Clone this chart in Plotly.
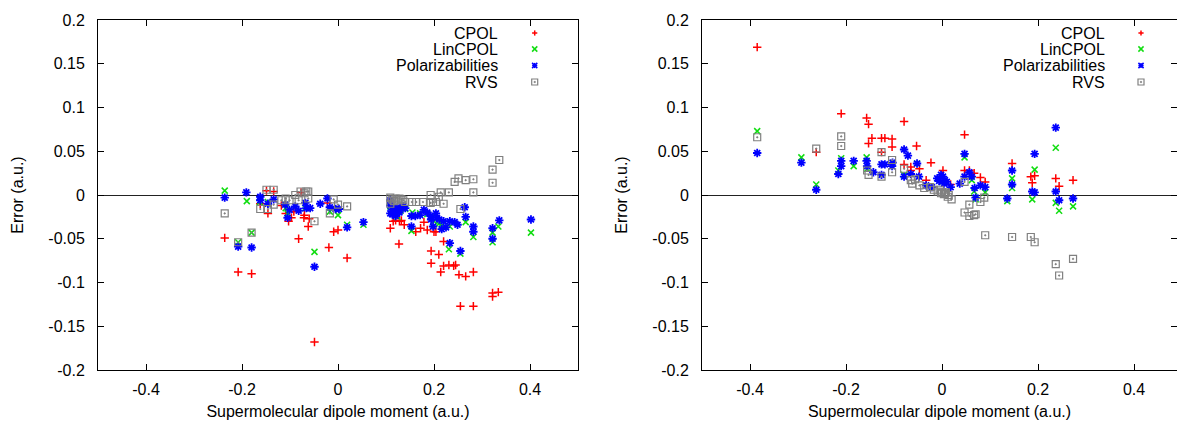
import plotly.graph_objects as go

# ---------------- data ----------------
series_names = ["CPOL", "LinCPOL", "Polarizabilities", "RVS"]
x_tick_vals = [-0.4, -0.2, 0, 0.2, 0.4]
x_tick_text = ["-0.4", "-0.2", "0", "0.2", "0.4"]
y_tick_vals = [0.2, 0.15, 0.1, 0.05, 0, -0.05, -0.1, -0.15, -0.2]
y_tick_text = ["0.2", "0.15", "0.1", "0.05", "0", "-0.05", "-0.1", "-0.15", "-0.2"]
x_title = "Supermolecular dipole moment (a.u.)"
y_title = "Error (a.u.)"

# left panel (dipole, error) pairs
left_cpol = [(-0.236, -0.049), (-0.208, -0.088), (-0.180, -0.090), (-0.162, -0.010), (-0.149, 0.005),
             (-0.146, -0.021), (-0.134, 0.004), (-0.118, -0.012), (-0.109, -0.021), (-0.103, -0.030),
             (-0.097, -0.026), (-0.092, -0.019), (-0.082, -0.050), (-0.071, -0.026), (-0.070, -0.023),
             (-0.062, -0.036), (-0.060, -0.027), (-0.077, 0.003), (-0.049, -0.168), (-0.019, -0.060),
             (-0.022, -0.009), (-0.009, -0.042), (0.000, -0.040), (0.019, -0.072), (0.109, -0.038),
             (0.115, -0.030), (0.120, -0.029), (0.127, -0.056), (0.132, -0.029), (0.138, -0.034),
             (0.128, -0.030), (0.162, -0.042), (0.172, -0.038), (0.179, -0.031), (0.186, -0.040),
             (0.194, -0.064), (0.194, -0.078), (0.200, -0.042), (0.204, -0.042), (0.210, -0.068),
             (0.214, -0.088), (0.220, -0.053), (0.220, -0.081), (0.231, -0.080), (0.241, -0.081),
             (0.245, -0.080), (0.252, -0.091), (0.255, -0.127), (0.266, -0.093), (0.282, -0.088),
             (0.282, -0.127), (0.322, -0.112), (0.322, -0.116), (0.334, -0.111)]
left_lincpol = [(-0.236, 0.005), (-0.190, -0.007), (-0.208, -0.054), (-0.180, -0.043), (-0.163, -0.008),
                (-0.146, -0.008), (-0.109, -0.015), (-0.105, -0.021), (-0.068, -0.015), (-0.049, -0.065),
                (-0.017, -0.019), (0.000, -0.023), (0.019, -0.034), (0.053, -0.034), (0.109, -0.013),
                (0.124, -0.025), (0.155, -0.020), (0.153, -0.041), (0.171, -0.021), (0.194, -0.025),
                (0.210, -0.033), (0.231, -0.062), (0.233, -0.036), (0.255, -0.067), (0.266, -0.031),
                (0.282, -0.048), (0.322, -0.054), (0.322, -0.043), (0.334, -0.036), (0.402, -0.043),
                (0.115, -0.020), (0.130, -0.018), (0.140, -0.016), (0.186, -0.022), (0.200, -0.030),
                (0.216, -0.035)]
left_polar = [(-0.236, -0.003), (-0.191, 0.003), (-0.208, -0.059), (-0.180, -0.060), (-0.162, -0.002),
              (-0.162, -0.006), (-0.146, -0.010), (-0.134, -0.005), (-0.110, -0.011), (-0.105, -0.026),
              (-0.101, -0.017), (-0.089, -0.013), (-0.082, -0.018), (-0.068, -0.009), (-0.066, -0.015),
              (-0.058, -0.015), (-0.037, -0.010), (-0.049, -0.082), (-0.022, -0.004), (-0.017, -0.014),
              (-0.005, -0.016), (0.002, -0.016), (0.019, -0.037), (0.053, -0.031),
              (0.109, -0.006), (0.109, -0.012), (0.109, -0.021), (0.113, -0.017), (0.117, -0.015),
              (0.120, -0.019), (0.124, -0.014), (0.128, -0.017), (0.132, -0.015), (0.136, -0.013),
              (0.140, -0.015), (0.113, -0.022), (0.120, -0.024), (0.128, -0.020),
              (0.153, -0.024), (0.153, -0.036), (0.161, -0.024), (0.171, -0.023), (0.179, -0.017),
              (0.186, -0.020), (0.193, -0.024), (0.194, -0.028), (0.198, -0.036), (0.204, -0.021),
              (0.206, -0.026), (0.211, -0.028), (0.216, -0.039), (0.220, -0.030), (0.225, -0.037),
              (0.233, -0.030), (0.233, -0.055), (0.243, -0.031), (0.249, -0.034), (0.255, -0.064),
              (0.264, -0.014), (0.266, -0.025), (0.282, -0.036), (0.282, -0.042), (0.322, -0.038),
              (0.322, -0.050), (0.336, -0.029), (0.402, -0.028)]
left_rvs = [(-0.236, -0.021), (-0.180, -0.043), (-0.208, -0.054), (-0.162, -0.016), (-0.149, 0.006),
            (-0.146, -0.016), (-0.134, 0.006), (-0.134, -0.011), (-0.118, -0.006), (-0.109, -0.004),
            (-0.101, -0.006), (-0.089, 0.000), (-0.082, -0.006), (-0.078, 0.004), (-0.070, 0.002),
            (-0.066, 0.004), (-0.062, 0.004), (-0.062, -0.004), (-0.049, -0.030), (-0.017, -0.021),
            (-0.009, -0.005), (0.000, -0.011), (0.019, -0.013),
            (0.109, -0.003), (0.113, -0.005), (0.117, -0.007), (0.120, -0.004), (0.124, -0.006),
            (0.128, -0.004), (0.132, -0.005), (0.136, -0.006), (0.140, -0.008), (0.109, -0.010),
            (0.154, -0.008), (0.163, -0.008), (0.177, -0.008), (0.193, 0.000), (0.193, -0.009),
            (0.198, -0.008), (0.204, -0.008), (0.210, -0.002), (0.214, 0.003), (0.220, -0.010),
            (0.231, 0.003), (0.243, 0.015), (0.251, 0.019), (0.255, -0.016), (0.266, 0.017),
            (0.282, 0.018), (0.282, 0.003), (0.322, 0.029), (0.322, 0.014), (0.336, 0.040)]

# right panel (dipole, error) pairs
right_cpol = [(-0.385, 0.169), (-0.262, 0.049), (-0.210, 0.093), (-0.157, 0.088), (-0.153, 0.081),
              (-0.153, 0.059), (-0.146, 0.065), (-0.126, 0.065), (-0.119, 0.065), (-0.104, 0.064),
              (-0.104, 0.055), (-0.126, 0.049), (-0.079, 0.084), (-0.079, 0.035), (-0.065, 0.032),
              (-0.065, 0.028), (-0.053, 0.056), (-0.047, 0.030), (-0.023, 0.037), (-0.033, 0.017),
              (0.002, 0.028), (0.018, 0.012), (0.047, 0.069), (0.047, 0.028), (0.057, 0.028),
              (0.067, 0.025), (0.080, 0.020), (0.090, 0.015), (0.146, 0.036), (0.185, 0.021),
              (0.188, 0.014), (0.193, 0.022), (0.237, 0.019), (0.244, 0.010), (0.273, 0.017)]
right_lincpol = [(-0.385, 0.073), (-0.293, 0.043), (-0.262, 0.012), (-0.216, 0.028), (-0.210, 0.042),
                 (-0.184, 0.033), (-0.157, 0.043), (-0.156, 0.030), (-0.079, 0.023), (-0.052, 0.036),
                 (0.047, 0.043), (0.067, 0.004), (0.070, -0.005), (0.090, 0.003), (0.136, -0.007),
                 (0.146, 0.019), (0.146, 0.008), (0.188, -0.005), (0.193, 0.029), (0.237, 0.054),
                 (0.237, -0.009), (0.244, -0.018), (0.273, -0.013), (-0.005, 0.018), (0.000, 0.015),
                 (0.062, 0.017)]
right_polar = [(-0.385, 0.048), (-0.293, 0.037), (-0.262, 0.006), (-0.216, 0.024), (-0.210, 0.039),
               (-0.210, 0.033), (-0.184, 0.039), (-0.157, 0.039), (-0.156, 0.033), (-0.143, 0.026),
               (-0.126, 0.035), (-0.126, 0.023), (-0.119, 0.035), (-0.104, 0.033), (-0.103, 0.037),
               (-0.079, 0.052), (-0.079, 0.021), (-0.071, 0.045), (-0.065, 0.024), (-0.052, 0.036),
               (-0.048, 0.021), (-0.033, 0.011), (-0.021, 0.009),
               (-0.010, 0.019), (-0.006, 0.016), (-0.002, 0.023), (0.002, 0.021), (0.006, 0.017),
               (0.004, 0.013), (0.010, 0.015), (0.018, 0.009),
               (0.037, 0.013), (0.047, 0.047), (0.047, 0.021), (0.057, 0.026), (0.062, 0.021),
               (0.068, 0.008), (0.070, -0.003), (0.080, 0.011), (0.090, 0.009), (0.136, -0.004),
               (0.146, 0.028), (0.146, 0.012), (0.188, 0.004), (0.193, 0.003), (0.193, 0.047),
               (0.237, 0.077), (0.237, 0.004), (0.244, -0.006), (0.273, -0.004)]
right_rvs = [(-0.385, 0.066), (-0.262, 0.053), (-0.210, 0.067), (-0.210, 0.056), (-0.156, 0.028),
             (-0.153, 0.023), (-0.126, 0.049), (-0.126, 0.021), (-0.104, 0.040), (-0.104, 0.026),
             (-0.079, 0.030), (-0.065, 0.017), (-0.062, 0.013), (-0.056, 0.018), (-0.047, 0.011),
             (-0.037, 0.008), (-0.025, 0.009), (-0.017, 0.006), (-0.009, 0.004), (-0.002, 0.002),
             (0.006, 0.002), (0.014, 0.000), (0.020, -0.005), (-0.005, 0.006), (0.000, 0.003),
             (0.004, 0.001), (0.008, 0.003), (0.012, -0.002),
             (0.047, -0.020), (0.047, 0.015), (0.057, -0.011), (0.057, -0.024), (0.067, -0.023),
             (0.070, -0.022), (0.080, -0.008), (0.088, -0.003), (0.090, -0.046), (0.146, -0.048),
             (0.185, -0.048), (0.193, -0.054), (0.237, -0.079), (0.244, -0.092), (0.273, -0.073)]

left_series = [left_cpol, left_lincpol, left_polar, left_rvs]
right_series = [right_cpol, right_lincpol, right_polar, right_rvs]

# ---------------- styles ----------------
FONT = "Liberation Sans, Arial, Helvetica, sans-serif"
colors = ["#ff0000", "#11dd11", "#0000ff", "#808080"]
markers = [
    dict(symbol="cross-thin", size=6, color=colors[0], line=dict(width=1.5, color=colors[0])),
    dict(symbol="x-thin", size=6, color=colors[1], line=dict(width=1.5, color=colors[1])),
    dict(symbol="asterisk", size=7, color=colors[2], line=dict(width=1.8, color=colors[2])),
    dict(symbol="square-open-dot", size=7, color=colors[3], line=dict(width=1.2, color=colors[3])),
]

W, H = 1177, 425
M_T, M_B = 20, 55
PLOT_H = H - M_T - M_B

fig = go.Figure()
for panel, (series, xa, ya) in enumerate([(left_series, "x", "y"), (right_series, "x2", "y2")]):
    for name, pts, mk in zip(series_names, series, markers):
        fig.add_trace(go.Scatter(
            x=[p[0] for p in pts], y=[p[1] for p in pts],
            mode="markers", name=name, marker=mk, xaxis=xa, yaxis=ya,
            showlegend=False, cliponaxis=True))

axis_common = dict(showline=True, linecolor="black", linewidth=1, mirror="ticks",
                   ticks="inside", ticklen=6, tickwidth=1, tickcolor="black",
                   showgrid=False, tickfont=dict(family=FONT, size=16, color="black"))

xcommon = dict(axis_common, tickvals=x_tick_vals, ticktext=x_tick_text, zeroline=False,
               ticklabelstandoff=5,
               title=dict(text=x_title, font=dict(family=FONT, size=16, color="black"), standoff=8))
ycommon = dict(axis_common, tickvals=y_tick_vals, ticktext=y_tick_text, range=[-0.2, 0.2],
               zeroline=True, zerolinecolor="#222222", zerolinewidth=1.3, ticklabelstandoff=9,
               title=dict(text=y_title, font=dict(family=FONT, size=16, color="black"), standoff=20))

px_per_unit = 480.0
left_x0, right_x0 = 98, 702
right_xmax = -0.5 + (W - right_x0) / px_per_unit

fig.update_layout(
    width=W, height=H,
    margin=dict(l=0, r=0, t=M_T, b=M_B, autoexpand=False),
    paper_bgcolor="white", plot_bgcolor="white",
    font=dict(family=FONT, size=16, color="black"),
    xaxis=dict(xcommon, domain=[left_x0 / W, (left_x0 + px_per_unit) / W], range=[-0.5, 0.5], anchor="y"),
    yaxis=dict(ycommon, domain=[0, 1], anchor="x"),
    xaxis2=dict(xcommon, domain=[right_x0 / W, 1.0], range=[-0.5, right_xmax], anchor="y2"),
    yaxis2=dict(ycommon, domain=[0, 1], anchor="x2"),
    showlegend=False,
)

# ---------------- legend (text right-aligned, key on the right, like gnuplot) ----------------
row_px = [33, 49, 65.5, 82]
legend_pos = [(500, 534.7), (1107, 1141)]


def ypaper(py):
    return (H - M_B - py) / PLOT_H


shapes = []
annotations = []
for text_x, key_x in legend_pos:
    for name, ry, col, mk in zip(series_names, row_px, colors, markers):
        annotations.append(dict(text=name, x=text_x / W, y=ypaper(ry), xref="paper", yref="paper",
                                xanchor="right", yanchor="middle", showarrow=False,
                                font=dict(family=FONT, size=16, color="black")))
        base = dict(xref="paper", yref="paper", xsizemode="pixel", ysizemode="pixel",
                    xanchor=key_x / W, yanchor=ypaper(ry), layer="above")
        r = 2.6
        sym = mk["symbol"]
        lw = dict(color=col, width=1.5)
        if sym in ("cross-thin", "asterisk"):
            shapes.append(dict(base, type="line", x0=-r, x1=r, y0=0, y1=0, line=lw))
            shapes.append(dict(base, type="line", x0=0, x1=0, y0=-r, y1=r, line=lw))
        if sym in ("x-thin", "asterisk"):
            shapes.append(dict(base, type="line", x0=-r, x1=r, y0=-r, y1=r, line=lw))
            shapes.append(dict(base, type="line", x0=-r, x1=r, y0=r, y1=-r, line=lw))
        if sym == "square-open-dot":
            shapes.append(dict(base, type="rect", x0=-3, x1=3, y0=-3, y1=3,
                               line=dict(color=col, width=1.2)))
            shapes.append(dict(base, type="rect", x0=-0.6, x1=0.6, y0=-0.6, y1=0.6,
                               line=dict(color=col, width=0.8), fillcolor=col))

fig.update_layout(shapes=shapes, annotations=annotations)

fig.write_html("out.html")
